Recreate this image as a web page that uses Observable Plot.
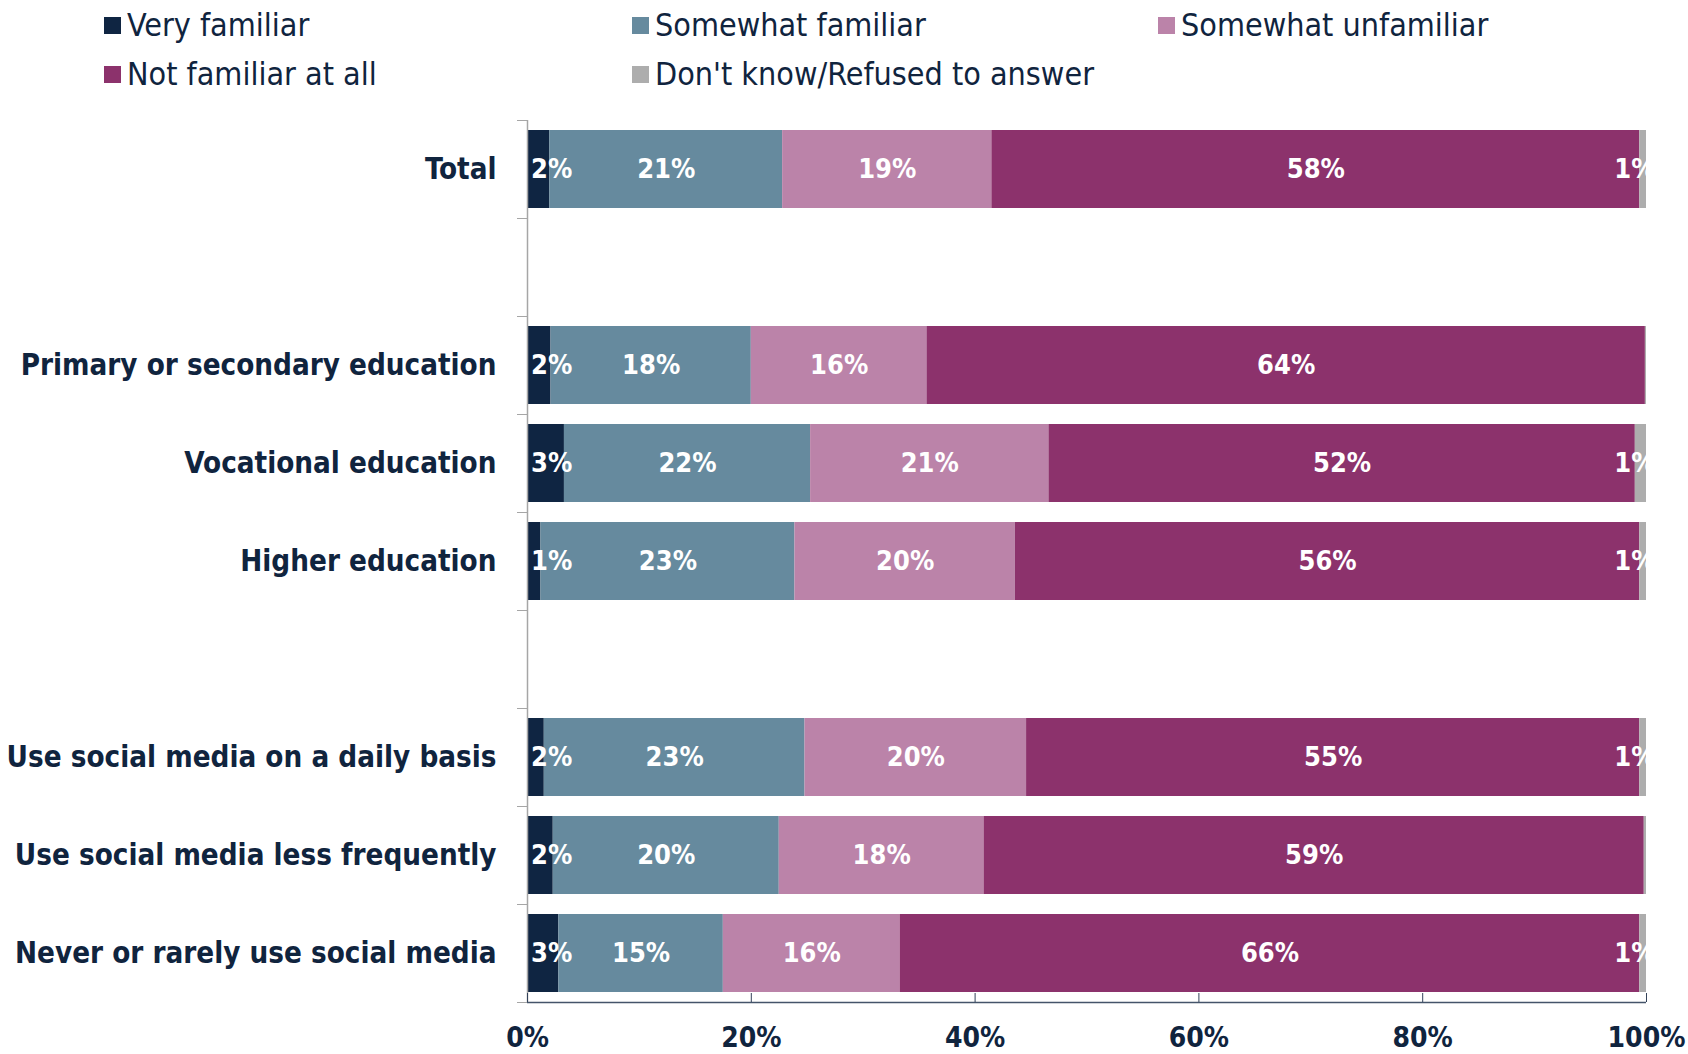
<!DOCTYPE html>
<html><head><meta charset="utf-8">
<script src="https://cdn.jsdelivr.net/npm/d3@7"></script>
<script src="https://cdn.jsdelivr.net/npm/@observablehq/plot@0.6"></script>
<style>
body{margin:0;background:#fff;font-family:"DejaVu Sans Condensed","DejaVu Sans",sans-serif;font-stretch:condensed;color:#10243e}
#legend{position:relative;width:1688px;height:100px}
.item{position:absolute;display:flex;align-items:center;height:40px;line-height:40px;font-size:32px;white-space:nowrap}
.sw{width:17px;height:17px;margin-right:6px;flex:none}
#chart svg{display:block}
</style></head><body>
<div id="legend"></div><div id="chart"></div>
<script>
// ---- data ----
const categories = ["Total", "", "Primary or secondary education", "Vocational education", "Higher education", " ",
  "Use social media on a daily basis", "Use social media less frequently", "Never or rarely use social media"];
const groups = ["Total", "Primary or secondary education", "Vocational education", "Higher education",
  "Use social media on a daily basis", "Use social media less frequently", "Never or rarely use social media"];
const seriesNames = ["Very familiar", "Somewhat familiar", "Somewhat unfamiliar", "Not familiar at all", "Don't know/Refused to answer"];
const seriesColors = ["#0f2542", "#668a9e", "#bb83a9", "#8c326c", "#adadad"];
const veryFamiliar       = [2.0, 2.1, 3.3, 1.2, 1.5, 2.3, 2.8];
const somewhatFamiliar   = [20.8, 17.9, 22.0, 22.7, 23.3, 20.2, 14.7];
const somewhatUnfamiliar = [18.7, 15.7, 21.3, 19.7, 19.8, 18.3, 15.8];
const notFamiliar        = [57.9, 64.2, 52.4, 55.8, 54.8, 59.0, 66.1];
const dontKnow           = [0.6, 0.1, 1.0, 0.6, 0.6, 0.2, 0.6];
const xTicks = [0, 20, 40, 60, 80, 100];

const seriesValues = [veryFamiliar, somewhatFamiliar, somewhatUnfamiliar, notFamiliar, dontKnow];
const rows = [];
seriesNames.forEach((s, si) => groups.forEach((g, gi) => rows.push({category: g, series: s, value: seriesValues[si][gi]})));
const fmt = v => Math.round(v) + "%";

// ---- legend ----
const navy = "#10243e";
const legendPos = [[104, 5], [632, 5], [1158, 5], [104, 54], [632, 54]];
const legend = document.getElementById("legend");
seriesNames.forEach((s, i) => {
  const it = document.createElement("div");
  it.className = "item";
  it.style.left = legendPos[i][0] + "px";
  it.style.top = legendPos[i][1] + "px";
  const sw = document.createElement("span");
  sw.className = "sw"; sw.style.background = seriesColors[i];
  const tx = document.createElement("span");
  tx.textContent = s;
  it.append(sw, tx);
  legend.append(it);
});

// ---- chart ----
const W = 1688, H = 954, mT = 20, mB = 52, mL = 527, mR = 42;
const step = (H - mT - mB) / categories.length;
const last = categories[categories.length - 1];
const font = "'DejaVu Sans Condensed', 'DejaVu Sans', sans-serif";
const middle = new Set(seriesNames.slice(1, 4));

const chart = Plot.plot({
  width: W, height: H, marginTop: mT, marginBottom: mB, marginLeft: mL, marginRight: mR,
  style: {fontFamily: font, color: navy, background: "#fff", overflow: "visible", fontStretch: "condensed"},
  x: {domain: [0, 100], label: null},
  y: {domain: categories, paddingInner: 0.2, paddingOuter: 0.1, label: null},
  color: {domain: seriesNames, range: seriesColors},
  marks: [
    Plot.barX(rows, Plot.stackX({x: "value", y: "category", fill: "series"})),
    Plot.ruleX([0], {stroke: "#a6a6a6", strokeWidth: 1.5}),
    Plot.axisY(categories, {tickSize: 10, tickFormat: () => "", dy: -step / 2, stroke: "#a6a6a6", label: null}),
    Plot.axisY([last], {tickSize: 10, tickFormat: () => "", dy: step / 2, stroke: "#a6a6a6", label: null}),
    Plot.axisY(groups, {tickSize: 0, tickPadding: 31, fontSize: 29.3, fontWeight: "bold", label: null}),
    Plot.ruleY([last], {dy: step / 2, stroke: "#44546a", strokeWidth: 1.5}),
    Plot.axisX(xTicks, {tickSize: 9, dy: -9, tickFormat: () => "", stroke: "#33425a", label: null}),
    Plot.axisX(xTicks, {tickSize: 0, tickPadding: 25, tickFormat: d => d + "%", fontSize: 28, fontWeight: "bold", label: null}),
    Plot.text(rows, Plot.stackX({x: "value", y: "category", z: "series",
      text: d => middle.has(d.series) ? fmt(d.value) : null,
      fill: "white", fontSize: 27, fontWeight: "bold"})),
    Plot.text(rows.filter(d => d.series === seriesNames[0]), {y: "category", text: d => fmt(d.value),
      frameAnchor: "left", textAnchor: "start", dx: 3.5, fill: "white", fontSize: 27, fontWeight: "bold"}),
    Plot.text(rows.filter(d => d.series === seriesNames[4] && Math.round(d.value) >= 1), {y: "category", text: d => fmt(d.value),
      frameAnchor: "right", textAnchor: "end", dx: 9, fill: "white", fontSize: 27, fontWeight: "bold", clip: true})
  ]
});
document.getElementById("chart").append(chart);
</script></body></html>
